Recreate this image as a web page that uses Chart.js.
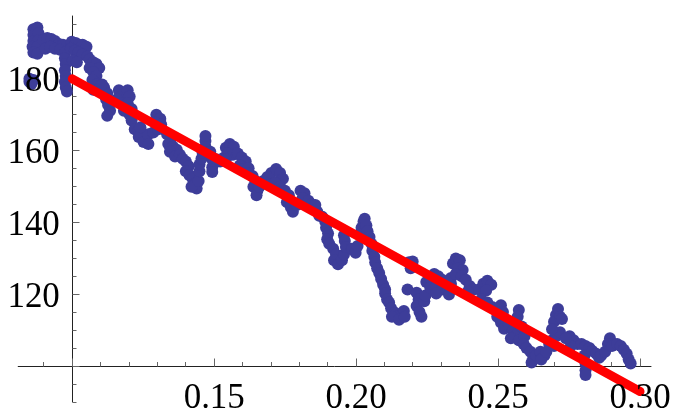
<!DOCTYPE html>
<html>
<head>
<meta charset="utf-8">
<script src="https://cdn.jsdelivr.net/npm/chart.js@4/dist/chart.umd.min.js"></script>
<style>
  html, body { margin: 0; padding: 0; background: #fff; }
  #plot { display: block; }
</style>
</head>
<body>
<canvas id="plot" width="676" height="419"></canvas>
<script>
const pointX = [
    0.0849, 0.0863, 0.0849, 0.0856,
    0.0863, 0.0877, 0.0863, 0.0881, 0.0863, 0.0881, 0.0860, 0.0877, 0.0863, 0.0877,
    0.0898, 0.0912, 0.0926, 0.0939, 0.0953, 0.0967, 0.0905, 0.0922, 0.0939, 0.0957,
    0.0974, 0.0974, 0.0977, 0.0974, 0.0977, 0.0974, 0.0977, 0.0981,
    0.0998, 0.1012, 0.1022, 0.1036, 0.1050, 0.0995, 0.1009, 0.1022, 0.1036, 0.1054, 0.1002, 0.1016,
    0.1061, 0.1074, 0.1085, 0.1095, 0.1061, 0.1074, 0.1085, 0.1071, 0.1088, 0.1074, 0.1095,
    0.1112, 0.1123, 0.1119, 0.1126, 0.1133, 0.1123, 0.1105, 0.1140,
    0.1164, 0.1178, 0.1195, 0.1202, 0.1157, 0.1175, 0.1195, 0.1209, 0.1182, 0.1202, 0.1209,
    0.1220, 0.1234, 0.1247, 0.1234, 0.1251, 0.1268, 0.1285, 0.1268, 0.1240,
    0.1296, 0.1310, 0.1293, 0.1313, 0.1303,
    0.1334, 0.1348, 0.1338, 0.1355, 0.1368, 0.1344, 0.1362, 0.1379, 0.1389, 0.1400, 0.1410, 0.1400,
    0.1413, 0.1424, 0.1431, 0.1438, 0.1420, 0.1445, 0.1448, 0.1448, 0.1455, 0.1459, 0.1469, 0.1469, 0.1469,
    0.1486, 0.1493, 0.1493, 0.1493, 0.1507, 0.1521, 0.1535,
    0.1541, 0.1555, 0.1569, 0.1548, 0.1566, 0.1541,
    0.1583, 0.1597, 0.1611, 0.1590, 0.1604, 0.1621, 0.1618,
    0.1635, 0.1645, 0.1638, 0.1652, 0.1649, 0.1659,
    0.1673, 0.1687, 0.1701, 0.1718, 0.1732, 0.1742, 0.1694, 0.1715, 0.1732,
    0.1749, 0.1763, 0.1756, 0.1770, 0.1777, 0.1791,
    0.1804, 0.1818, 0.1811,
    0.1832, 0.1843, 0.1853, 0.1863, 0.1870, 0.1856, 0.1881, 0.1891,
    0.1894, 0.1901, 0.1898, 0.1905, 0.1919, 0.1929, 0.1922, 0.1936, 0.1950, 0.1957, 0.1957,
    0.1960, 0.1964, 0.1985, 0.1998, 0.2005, 0.2012, 0.2019, 0.2026, 0.2030, 0.2036, 0.2040,
    0.2047, 0.2054, 0.2057, 0.2064, 0.2067, 0.2074, 0.2081, 0.2088, 0.2095, 0.2102, 0.2102,
    0.2109, 0.2116, 0.2123, 0.2137, 0.2151, 0.2168, 0.2126, 0.2151, 0.2171, 0.2181,
    0.2213, 0.2220, 0.2213, 0.2223, 0.2230, 0.2240, 0.2244, 0.2186, 0.2199, 0.2192,
    0.2247, 0.2261, 0.2275, 0.2289, 0.2303, 0.2261, 0.2282, 0.2303, 0.2282,
    0.2323, 0.2327, 0.2334, 0.2334, 0.2341, 0.2351, 0.2365, 0.2358, 0.2375, 0.2351, 0.2372,
    0.2386, 0.2400, 0.2414, 0.2393, 0.2434, 0.2448, 0.2462, 0.2476, 0.2458, 0.2441, 0.2462, 0.2479,
    0.2497, 0.2510, 0.2521, 0.2510, 0.2517, 0.2538, 0.2552, 0.2566, 0.2545, 0.2573, 0.2573,
    0.2569, 0.2583, 0.2593, 0.2590,
    0.2600, 0.2614, 0.2624, 0.2618, 0.2635, 0.2649, 0.2663, 0.2652, 0.2670, 0.2680, 0.2690,
    0.2704, 0.2718, 0.2697, 0.2704, 0.2697, 0.2711, 0.2718, 0.2690, 0.2725,
    0.2752, 0.2766, 0.2780, 0.2756, 0.2739, 0.2794, 0.2808, 0.2822, 0.2804, 0.2808, 0.2808,
    0.2808, 0.2832, 0.2846, 0.2856, 0.2863, 0.2877, 0.2894, 0.2887, 0.2901, 0.2919, 0.2932,
    0.2943, 0.2953, 0.2960, 0.2967
];
const pointY = [
    180.0, 179.7, 179.2, 178.6,
    193.8, 194.3, 192.2, 192.7, 190.5, 190.8, 188.9, 188.9, 187.3, 187.0,
    190.8, 191.4, 191.1, 190.5, 189.7, 189.5, 188.4, 188.9, 188.4, 188.1,
    187.3, 185.7, 184.1, 182.4, 180.8, 179.2, 177.6, 176.5,
    190.3, 190.0, 189.5, 189.5, 188.9, 188.4, 187.8, 187.3, 186.8, 186.2, 185.1, 184.6,
    185.4, 184.6, 184.1, 183.0, 183.0, 181.9, 180.8, 179.7, 178.6, 177.0, 177.3,
    177.6, 176.0, 174.3, 172.7, 171.1, 169.7, 178.4, 173.6,
    176.8, 175.4, 176.8, 175.1, 174.3, 173.2, 173.2, 171.6, 171.1, 170.0, 168.4,
    166.0, 165.7, 164.9, 163.8, 162.4, 164.6, 165.1, 161.9, 166.5,
    170.0, 168.9, 167.8, 167.3, 166.0,
    164.6, 163.5, 161.9, 161.1, 160.3, 159.7, 158.4, 158.9, 157.8, 157.0, 155.7, 154.3,
    153.2, 152.2, 150.8, 149.5, 150.0, 151.6, 154.3, 156.2, 157.8, 159.5, 161.1, 162.7, 164.1,
    159.7, 157.6, 155.4, 154.1, 157.6, 157.0, 158.1,
    160.8, 161.9, 161.1, 159.2, 158.9, 157.6,
    159.2, 158.1, 157.0, 155.9, 154.9, 155.1, 153.8,
    153.0, 151.6, 150.0, 148.9, 147.6, 150.0,
    151.6, 152.7, 153.8, 154.9, 153.8, 152.2, 150.5, 151.1, 150.0,
    148.9, 147.6, 145.7, 144.3, 143.0, 144.9,
    148.9, 148.2, 146.8,
    146.1, 145.1, 144.1, 143.0, 141.9, 144.9, 141.6, 140.3,
    138.6, 137.0, 135.4, 134.1, 132.7, 131.1, 129.5, 128.4, 129.5, 131.1, 136.5,
    134.9, 133.2, 132.7, 131.6, 133.5, 136.8, 138.6, 140.3, 141.1, 139.2, 137.6,
    136.0, 134.1, 132.2, 130.5, 128.9, 127.3, 126.0, 124.3, 122.7, 121.4, 120.3,
    118.6, 117.8, 116.2, 114.9, 114.1, 115.4, 113.8, 113.0, 113.8, 121.4,
    120.5, 118.6, 116.8, 115.1, 113.8, 118.1, 119.7, 129.0, 129.2, 127.3,
    123.5, 124.6, 125.7, 125.1, 124.1, 121.9, 122.4, 121.4, 120.3,
    121.9, 120.0, 123.0, 124.6, 128.6, 130.0, 129.5, 127.3, 126.8, 125.7, 125.1,
    124.1, 122.4, 121.4, 120.8, 121.4, 123.0, 123.8, 122.7, 121.1, 118.6, 117.8, 116.5,
    113.8, 112.2, 110.5, 117.0, 115.1, 111.6, 110.0, 108.9, 107.8, 107.3, 115.7,
    113.8, 111.1, 108.4, 106.2,
    105.1, 104.1, 102.4, 101.1, 103.0, 104.1, 103.0, 101.9, 104.1, 106.2, 107.3,
    108.4, 109.5, 105.7, 114.3, 112.4, 116.0, 113.8, 110.3, 113.2,
    108.4, 107.3, 106.2, 105.7, 107.8, 106.2, 105.7, 105.1, 103.0, 100.8, 98.9,
    97.6, 104.3, 103.5, 102.4, 103.0, 104.1, 107.8, 106.2, 105.7, 106.2, 105.7,
    104.6, 103.5, 101.9, 100.8
];

// least squares line, drawn between its two ends
const fitX = [0.10, 0.30];
const fitY = [180.0, 93.0];

// axes
const originX = 0.10;
const originY = 100;
const xAxisRange = [0.0808, 0.3040];
const yAxisRange = [90, 197.6];
const xTickLabels = ['0.15', '0.20', '0.25', '0.30'];
const yTickLabels = ['120', '140', '160', '180'];

const labelFont = '36px "Liberation Serif", "Times New Roman", serif';
const squeeze = 0.97;

const mmaAxes = {
    id: 'mmaAxes',
    beforeDatasetsDraw(chart) {
        const ctx = chart.ctx;
        const xs = chart.scales.x;
        const ys = chart.scales.y;
        const ox = Math.floor(xs.getPixelForValue(originX)) + 0.5;
        const oy = Math.floor(ys.getPixelForValue(originY)) + 0.5;

        ctx.save();
        ctx.lineWidth = 1;
        ctx.strokeStyle = '#222';
        ctx.beginPath();
        ctx.moveTo(xs.getPixelForValue(xAxisRange[0]), oy);
        ctx.lineTo(xs.getPixelForValue(xAxisRange[1]), oy);
        ctx.moveTo(ox, ys.getPixelForValue(yAxisRange[0]));
        ctx.lineTo(ox, ys.getPixelForValue(yAxisRange[1]));
        ctx.stroke();

        ctx.strokeStyle = '#666';
        ctx.beginPath();
        for (let i = 9; i <= 30; i++) {
            const px = Math.floor(xs.getPixelForValue(i / 100)) + 0.5;
            const len = i % 5 === 0 ? 8 : 4.5;
            ctx.moveTo(px, oy);
            ctx.lineTo(px, oy - len);
        }
        for (let v = 90; v <= 195; v += 5) {
            const py = Math.floor(ys.getPixelForValue(v)) + 0.5;
            const len = v % 20 === 0 ? 7 : 4;
            ctx.moveTo(ox, py);
            ctx.lineTo(ox + len, py);
        }
        ctx.stroke();
        ctx.restore();
    },
    afterDatasetsDraw(chart) {
        const ctx = chart.ctx;
        const xs = chart.scales.x;
        const ys = chart.scales.y;
        const oy = ys.getPixelForValue(originY);
        const ox = xs.getPixelForValue(originX);

        ctx.save();
        ctx.fillStyle = '#000';
        ctx.font = labelFont;

        ctx.textAlign = 'center';
        ctx.textBaseline = 'alphabetic';
        xTickLabels.forEach(label => {
            ctx.save();
            ctx.translate(xs.getPixelForValue(parseFloat(label)), oy + 42);
            ctx.scale(squeeze, 1);
            ctx.fillText(label, 0, 0);
            ctx.restore();
        });

        ctx.textAlign = 'right';
        yTickLabels.forEach(label => {
            ctx.save();
            ctx.translate(ox - 12.5, ys.getPixelForValue(parseFloat(label)) + 12);
            ctx.scale(squeeze, 1);
            ctx.fillText(label, 0, 0);
            ctx.restore();
        });
        ctx.restore();
    }
};

new Chart(document.getElementById('plot'), {
    type: 'scatter',
    data: {
        datasets: [
            {
                label: 'fit',
                data: fitX.map((x, i) => ({ x: x, y: fitY[i] })),
                showLine: true,
                borderColor: '#ff0000',
                borderWidth: 9,
                borderCapStyle: 'round',
                pointRadius: 0,
                order: 0
            },
            {
                label: 'data',
                data: pointX.map((x, i) => ({ x: x, y: pointY[i] })),
                backgroundColor: '#3d3d99',
                borderWidth: 0,
                pointRadius: 6,
                pointHoverRadius: 6,
                order: 1
            }
        ]
    },
    options: {
        responsive: false,
        animation: false,
        events: [],
        layout: { padding: 0 },
        plugins: {
            legend: { display: false },
            tooltip: { enabled: false }
        },
        scales: {
            x: { type: 'linear', min: 0.076644, max: 0.310554, display: false },
            y: { type: 'linear', min: 87.03, max: 200.27, display: false }
        }
    },
    plugins: [mmaAxes]
});
</script>
</body>
</html>
